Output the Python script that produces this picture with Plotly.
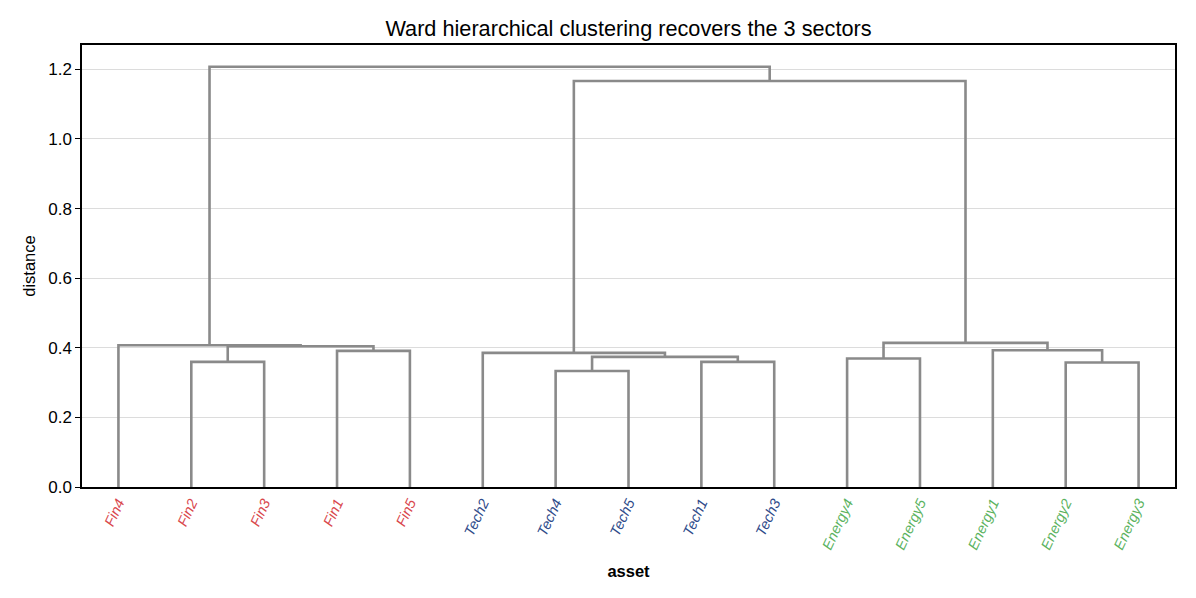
import plotly.graph_objects as go

# Leaf order as displayed
leaves = ["Fin4", "Fin2", "Fin3", "Fin1", "Fin5",
          "Tech2", "Tech4", "Tech5", "Tech1", "Tech3",
          "Energy4", "Energy5", "Energy1", "Energy2", "Energy3"]
sectors = ["Fin"] * 5 + ["Tech"] * 5 + ["Energy"] * 5
sector_colors = {"Fin": "#d9484d", "Tech": "#2f4b8a", "Energy": "#5cb35f"}

# Merges: (left child, right child, height); cluster ids are "c<k>" in order
merge_left = ["Tech4", "Energy2", "Fin2", "Tech1", "Energy4", "c0", "Tech2", "Fin1",
              "Energy1", "c2", "Fin4", "c4", "c6", "c10"]
merge_right = ["Tech5", "Energy3", "Fin3", "Tech3", "Energy5", "c3", "c5", "Fin5",
               "c1", "c7", "c9", "c8", "c11", "c12"]
merge_height = [0.3335, 0.3577, 0.3594, 0.3594, 0.3692, 0.3738, 0.3853, 0.391,
                0.393, 0.4045, 0.4074, 0.414, 1.1665, 1.2076]

# scipy-like coordinates: leaves at 5, 15, 25, ...
pos = {name: 5 + 10 * i for i, name in enumerate(leaves)}
hgt = {name: 0.0 for name in leaves}

fig = go.Figure()
for k, (a, b, h) in enumerate(zip(merge_left, merge_right, merge_height)):
    xs = [pos[a], pos[a], pos[b], pos[b]]
    ys = [hgt[a], h, h, hgt[b]]
    fig.add_trace(go.Scatter(x=xs, y=ys, mode="lines",
                             line=dict(color="#8a8a8a", width=2.6),
                             hoverinfo="skip", showlegend=False))
    cid = f"c{k}"
    pos[cid] = (pos[a] + pos[b]) / 2
    hgt[cid] = h

tick_text = [f'<span style="color:{sector_colors[s]}">{n}</span>'
             for n, s in zip(leaves, sectors)]

fig.update_layout(
    width=1196, height=598,
    margin=dict(l=82, r=21, t=45, b=111),
    paper_bgcolor="white", plot_bgcolor="white",
    font=dict(family="Liberation Sans, Arial, sans-serif", color="black"),
    title=dict(text="Ward hierarchical clustering recovers the 3 sectors",
               x=0.5, xref="paper", xanchor="center", y=0.953, yanchor="middle",
               font=dict(size=21.7, color="black")),
    xaxis=dict(
        range=[0, 150],
        tickmode="array",
        tickvals=[5 + 10 * i for i in range(len(leaves))],
        ticktext=tick_text,
        tickangle=-65,
        tickfont=dict(size=14.5, style="italic"),
        ticks="", showgrid=False, zeroline=False,
        showline=True, linecolor="black", linewidth=1.5, mirror=True,
        title=dict(text="<b>asset</b>", font=dict(size=16.5), standoff=14),
    ),
    yaxis=dict(
        range=[0, 1.27],
        tickvals=[0, 0.2, 0.4, 0.6, 0.8, 1.0, 1.2],
        tickformat=".1f",
        tickfont=dict(size=17),
        ticks="outside", ticklen=5, tickcolor="black",
        showgrid=True, gridcolor="#dcdcdc", gridwidth=1, zeroline=False,
        showline=True, linecolor="black", linewidth=1.5, mirror=True,
        title=dict(text="distance", font=dict(size=16.5), standoff=8),
    ),
)

fig.write_html("out.html")
